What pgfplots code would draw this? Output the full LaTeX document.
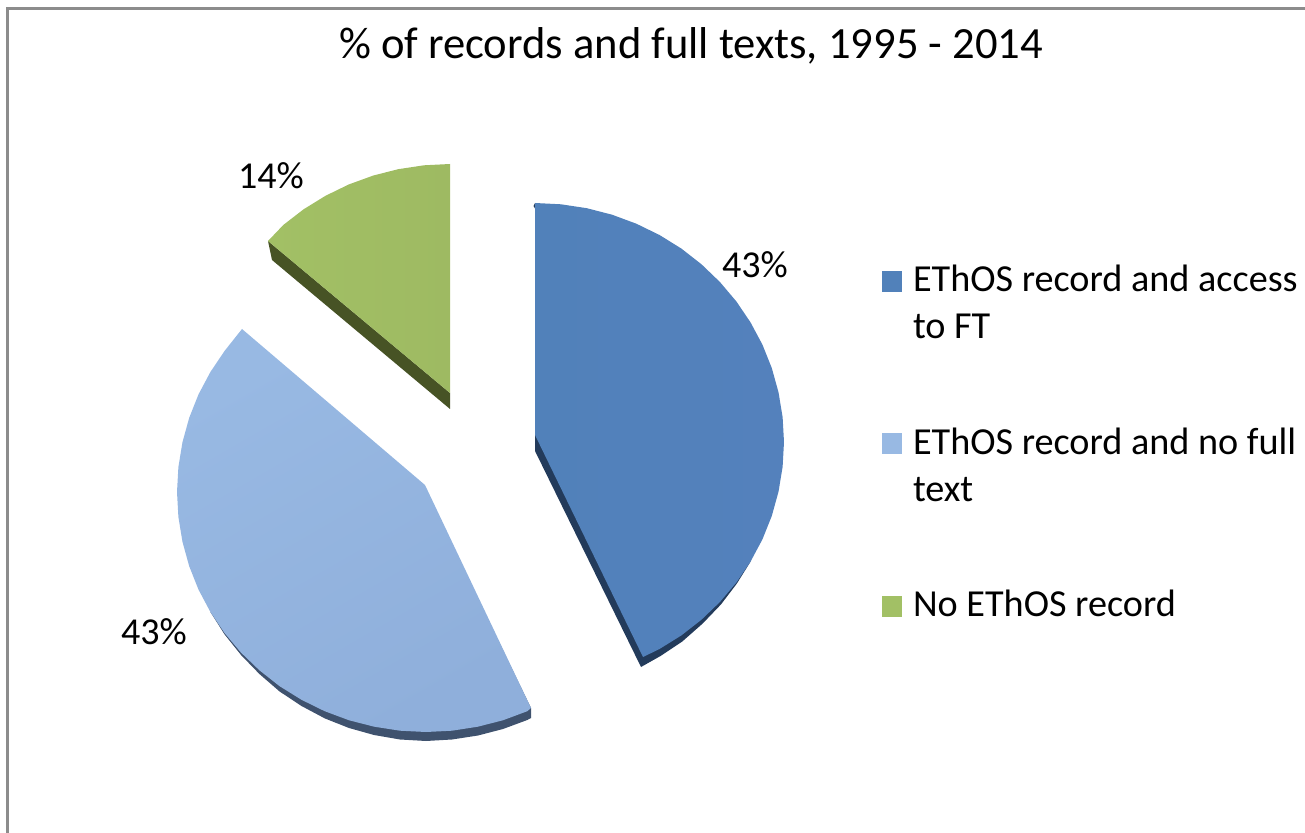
\documentclass[border=0pt]{standalone}
\usepackage{pgfplots}
\pgfplotsset{compat=1.18}
\usepackage{fontspec}
\setmainfont{Carlito}
\definecolor{blueA}{HTML}{5181BA}
\definecolor{blueB}{HTML}{5481BC}
\definecolor{blueS}{HTML}{233B5B}
\definecolor{lightA}{HTML}{98B9E3}
\definecolor{lightB}{HTML}{8FAFDB}
\definecolor{lightS}{HTML}{3F526E}
\definecolor{greenA}{HTML}{A2C065}
\definecolor{greenB}{HTML}{9EBA62}
\definecolor{greenS}{HTML}{475325}
\definecolor{frameC}{HTML}{8C8C8C}
\pgfplotstableread{
x y
533.5 206
535 203
535 451
641 667
660.5 656
682.4 641.4
702.6 623.6
721 604.4
736.9 583.5
750.6 561.5
}\blueshadow
\pgfplotstableread{
x y
535 203
561.0 204.3
586.8 208.2
612.0 214.7
636.3 223.7
659.5 235.0
681.4 248.6
701.6 264.4
720.0 282.1
736.4 301.5
750.6 322.5
762.5 344.8
771.8 368.1
778.5 392.3
782.6 417.0
784 442
782.6 467.0
778.5 491.7
771.8 515.9
762.5 539.2
750.6 561.5
736.4 582.5
720.0 601.9
701.6 619.6
681.4 635.4
659.5 649.0
643 657
535 435
}\bluewedge
\pgfplotstableread{
x y
531 708
531 718
527.3 720
503 729
478 735.5
452 739.5
426 741
400 739.5
374 735
349 728
325 718.5
301.5 706
279.6 691.5
259.4 674
241 655
224.6 634.5
210.4 612
426 492
}\lightshadow
\pgfplotstableread{
x y
425 485
531 708
527.3 711.2
502.9 720.3
477.8 726.7
452 730.7
426 732
400 730.7
374.2 726.7
349.1 720.3
324.7 711.2
301.5 699.8
279.6 686.2
259.4 670.3
241 652.6
224.6 633.1
210.4 612
198.5 589.6
189.2 566.2
182.5 541.9
178.4 517.1
177 492
178.4 466.9
182.5 442.1
189.2 417.8
198.5 394.4
210.4 372
224.6 350.9
242 329
}\lightwedge
\pgfplotstableread{
x y
268 241
272 260
450 409
450 393
}\greenshadow
\pgfplotstableread{
x y
450 393
268 241
283.4 224.9
303.6 209.3
325.5 195.8
348.7 184.5
373.1 175.6
398.2 169.2
424 165.3
450 164
}\greenwedge
\begin{document}
\begin{tikzpicture}
\begin{axis}[
  scale only axis, width=652.5pt, height=416.5pt,
  xmin=0, xmax=1305, ymin=0, ymax=833, y dir=reverse,
  axis lines=none, clip=true,
  title={\fontsize{22.3}{26}\selectfont \% of records and full texts, 1995 - 2014},
  title style={at={(axis cs:691,58)}, anchor=center, inner sep=0pt},
  legend cell align=left,
  legend style={at={(axis cs:882,265)}, anchor=north west, draw=none, fill=none,
    inner sep=0pt, outer sep=0pt, row sep=66.5pt, column sep=5.5pt,
    font=\fontsize{19.1}{23.5}\selectfont,
    nodes={inner sep=0pt}},
  legend image code/.code={\fill[#1] (0pt,-6pt) rectangle (10pt,4.5pt);},
]
\addplot[draw=none, forget plot] coordinates {(0,0) (1305,833)};
\addplot[draw=frameC, line width=1.7pt, forget plot] coordinates {(7.5,833) (7.5,8.5) (1305,8.5)};
\addplot[fill=blueS, draw=none, forget plot] table {\blueshadow} --cycle;
\addplot[left color=blueA, right color=blueB, draw=none, forget plot] table {\bluewedge} --cycle;
\addplot[fill=lightS, draw=none, forget plot] table {\lightshadow} --cycle;
\addplot[left color=lightA, right color=lightB, shading angle=30, draw=none, forget plot] table {\lightwedge} --cycle;
\addplot[fill=greenS, draw=none, forget plot] table {\greenshadow} --cycle;
\addplot[left color=greenA, right color=greenB, draw=none, forget plot] table {\greenwedge} --cycle;
\addlegendimage{fill=blueA, draw=none}
\addlegendentry{\parbox[t]{196pt}{EThOS record and access\\to FT}}
\addlegendimage{fill=lightA, draw=none}
\addlegendentry{\parbox[t]{196pt}{EThOS record and no full\\text}}
\addlegendimage{fill=greenA, draw=none}
\addlegendentry{\parbox[t]{196pt}{No EThOS record}}
\node[font=\fontsize{19}{22}\selectfont] at (axis cs:755,265) {43\%};
\node[font=\fontsize{19}{22}\selectfont] at (axis cs:154,632) {43\%};
\node[font=\fontsize{19}{22}\selectfont] at (axis cs:271,176) {14\%};
\end{axis}
\end{tikzpicture}
\end{document}
